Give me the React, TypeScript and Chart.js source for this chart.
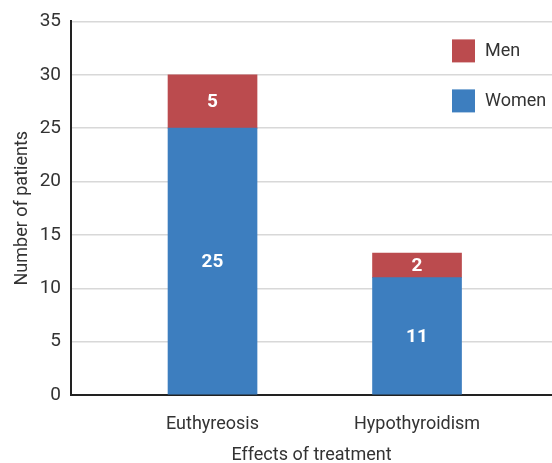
import React, { useEffect, useRef } from 'react';
import { Chart, registerables } from 'chart.js';

Chart.register(...registerables);

const categories = ['Euthyreosis', 'Hypothyroidism'];
const womenValues = [25, 11];
const menValues = [5, 2.3];
const womenLabels = ['25', '11'];
const menLabels = ['5', '2'];
const yTickStep = 5;
const yMin = 0;
const yMax = 35;
const xTitle = 'Effects of treatment';
const yTitle = 'Number of patients';

const FONT = "Roboto, 'Liberation Sans', sans-serif";
const FS = 18;
const BLUE = '#3d7ebf';
const RED = '#bb4b4e';
const TEXT = '#333333';

const segmentLabels = {
  id: 'segmentLabels',
  afterDatasetsDraw(chart: any) {
    const ctx = chart.ctx;
    ctx.save();
    ctx.font = `bold ${FS + 1}px ${FONT}`;
    ctx.fillStyle = '#ffffff';
    ctx.textAlign = 'center';
    ctx.textBaseline = 'middle';
    chart.data.datasets.forEach((ds: any, di: number) => {
      const meta = chart.getDatasetMeta(di);
      meta.data.forEach((el: any, i: number) => {
        const { x, y, base } = el.getProps(['x', 'y', 'base'], true);
        ctx.fillText(ds.segLabels[i], x, (y + base) / 2 + 1);
      });
    });
    ctx.restore();
  },
};

const boxLegend = {
  id: 'boxLegend',
  afterDraw(chart: any) {
    const ctx = chart.ctx;
    const area = chart.chartArea;
    const items = chart.data.datasets.slice().reverse();
    ctx.save();
    ctx.font = `${FS}px ${FONT}`;
    ctx.textAlign = 'left';
    ctx.textBaseline = 'middle';
    items.forEach((ds: any, i: number) => {
      const bx = area.right - 100;
      const by = area.top + 18 + i * 50;
      ctx.fillStyle = ds.backgroundColor;
      ctx.fillRect(bx, by, 23, 23);
      ctx.fillStyle = TEXT;
      ctx.fillText(ds.label, bx + 33, by + 12);
    });
    ctx.restore();
  },
};

export default function App() {
  const ref = useRef<HTMLCanvasElement>(null);

  useEffect(() => {
    if (!ref.current) return;
    const chart = new Chart(ref.current, {
      type: 'bar',
      data: {
        datasets: [
          {
            label: 'Women',
            data: womenValues.map((v, i) => ({ x: i, y: v })),
            backgroundColor: BLUE,
            barThickness: 89,
            segLabels: womenLabels,
          } as any,
          {
            label: 'Men',
            data: menValues.map((v, i) => ({ x: i, y: v })),
            backgroundColor: RED,
            barThickness: 89,
            segLabels: menLabels,
          } as any,
        ],
      },
      options: {
        animation: false,
        responsive: false,
        devicePixelRatio: 1,
        layout: { padding: { top: 17, right: 0, left: 0, bottom: 0 } },
        plugins: {
          legend: { display: false },
          tooltip: { enabled: false },
        },
        scales: {
          x: {
            type: 'linear',
            stacked: true,
            offset: false,
            min: -0.692,
            max: 1.66,
            afterBuildTicks: (scale: any) => {
              scale.ticks = categories.map((_, i) => ({ value: i }));
            },
            afterFit: (scale: any) => {
              scale.height = 68;
            },
            grid: { display: false, drawTicks: false, offset: false },
            border: { display: true, color: '#222222', width: 2 },
            ticks: {
              callback: (v: any) => categories[v] ?? '',
              font: { family: FONT, size: FS },
              color: TEXT,
              padding: 19,
              maxRotation: 0,
              autoSkip: false,
            },
            title: {
              display: true,
              text: xTitle,
              font: { family: FONT, size: FS, lineHeight: 1 },
              color: TEXT,
              padding: { top: 0, bottom: -1 },
            },
          },
          y: {
            stacked: true,
            min: yMin,
            max: yMax,
            afterFit: (scale: any) => {
              scale.width = 71;
            },
            grid: {
              drawTicks: false,
              lineWidth: 1.5,
              color: (c: any) => (c.tick && c.tick.value === 0 ? 'rgba(0,0,0,0)' : '#d8d8d8'),
            },
            border: { display: true, color: '#222222', width: 2 },
            ticks: {
              stepSize: yTickStep,
              font: { family: FONT, size: FS + 1 },
              color: TEXT,
              padding: 10,
            },
            title: {
              display: true,
              text: yTitle,
              font: { family: FONT, size: FS, lineHeight: 1 },
              color: TEXT,
              padding: { top: 13, bottom: 0 },
            },
          },
        },
      } as any,
      plugins: [segmentLabels, boxLegend],
    });
    return () => chart.destroy();
  }, []);

  return (
    <div style={{ position: 'absolute', left: 0, top: 0, width: 552, height: 463, background: '#ffffff' }}>
      <canvas ref={ref} width={552} height={463} style={{ display: 'block' }} />
    </div>
  );
}
